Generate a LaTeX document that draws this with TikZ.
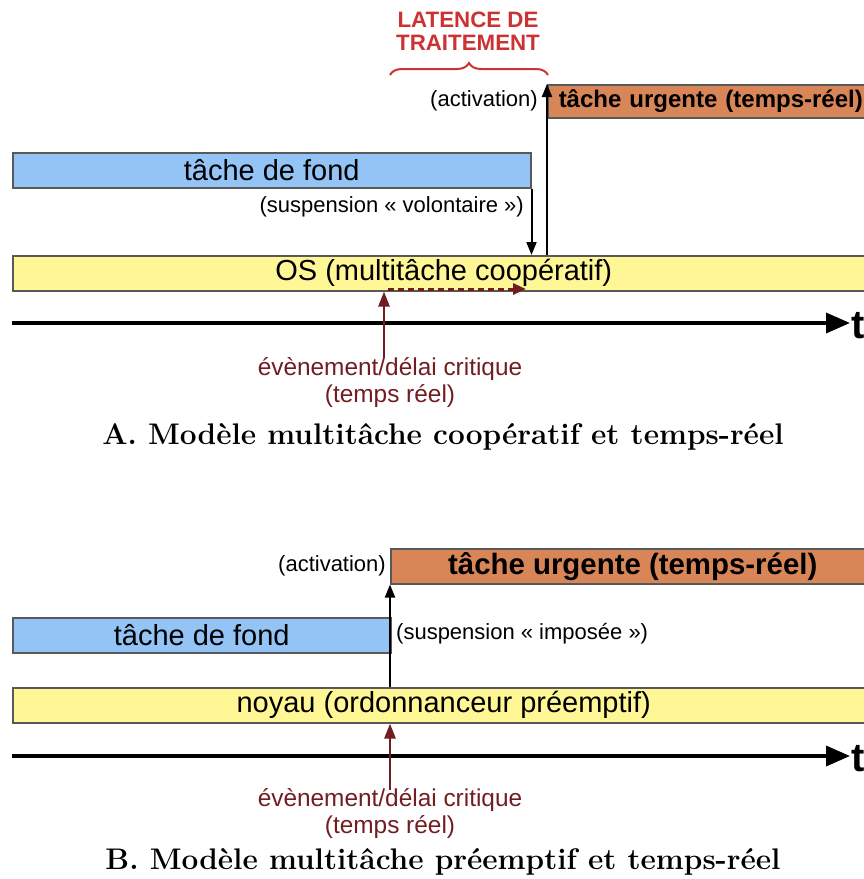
\documentclass[tikz,border=0pt]{standalone}
\usepackage{fontspec}
\newfontfamily\hv{Liberation Sans}
\usetikzlibrary{arrows.meta,decorations.pathreplacing}
\definecolor{bluefond}{RGB}{147,196,245}
\definecolor{yel}{RGB}{255,247,150}
\definecolor{org}{RGB}{216,133,88}
\definecolor{drk}{RGB}{112,30,34}
\definecolor{redt}{RGB}{204,50,50}
\begin{document}
\begin{tikzpicture}[x=1pt,y=-1pt,
  bar/.style={draw=black!65, line width=1.5pt, inner sep=0pt, minimum height=35pt, font=\hv\fontsize{29}{32}\selectfont},
  lbl/.style={inner sep=0pt, font=\hv\fontsize{22}{26}\selectfont},
  evt/.style={inner sep=0pt, align=center, text=drk, font=\hv\fontsize{24.4}{27}\selectfont},
  captxt/.style={inner sep=0pt, font=\bfseries\fontsize{29.8}{32}\selectfont},
  arr/.style={line width=2pt, -{Triangle[length=13pt,width=10pt]}},
  redarr/.style={drk, line width=2.5pt, -{Triangle[length=15pt,width=11pt]}},
  dasharr/.style={drk, line width=3pt, dash pattern=on 6pt off 4pt, -{Triangle[length=13pt,width=11pt]}},
  axis/.style={line width=3.5pt, -{Triangle[length=24pt,width=20pt]}},
  tlbl/.style={inner sep=0pt, anchor=west, font=\hv\bfseries\fontsize{40}{44}\selectfont}
]
\useasboundingbox (0,0) rectangle (864,879);
\clip (0,0) rectangle (864,879);

% ---------- A ----------
\node[text=redt, align=center, inner sep=0pt, font=\hv\bfseries\fontsize{22.3}{23}\selectfont] (lat) at (468,31) {LATENCE DE\\TRAITEMENT};
\draw[redt, line width=2pt, decorate, decoration={brace, amplitude=12pt}] (390,75) -- (548,75);

\node[bar, fill=org, anchor=north west, minimum height=33pt, text width=330pt, align=left, inner xsep=11pt, font=\hv\bfseries\fontsize{24}{28}\selectfont] (urgA) at (547,84) {tâche urgente (temps-réel)};
\node[lbl, anchor=east] (actA) at (538,101) {(activation)};

\node[bar, fill=bluefond, anchor=north west, minimum width=518pt] (fondA) at (12,152) {tâche de fond};
\node[lbl, anchor=east] (susA) at (524,207) {(suspension « volontaire »)};

\node[bar, fill=yel, anchor=north west, minimum width=862pt] (osA) at (12,255) {OS (multitâche coopératif)};

\draw[arr] (fondA.south east) -- (fondA.south east |- osA.north);
\draw[arr] (urgA.north west |- osA.north) -- (urgA.north west);

\coordinate (axA0) at (12,323);
\coordinate (axA1) at (850,323);
\draw[axis] (axA0) -- (axA1);
\node[tlbl] (tA) at (851,326) {t};

\node[evt] (evA) at (390,382.5) {évènement/délai critique\\(temps réel)};
\coordinate (eA) at (384,358);
\coordinate (dA0) at (388,289);
\coordinate (dA1) at (526,289);
\draw[redarr] (eA) -- (eA |- osA.south);
\draw[dasharr] (dA0) -- (dA1);

\node[captxt] (capA) at (443,437) {A. Modèle multitâche coopératif et temps-réel};

% ---------- B ----------
\node[bar, fill=org, anchor=north west, minimum width=484pt, font=\hv\bfseries\fontsize{29.4}{32}\selectfont] (urgB) at (390,548) {tâche urgente (temps-réel)};
\node[lbl, anchor=east] (actB) at (386,566) {(activation)};

\node[bar, fill=bluefond, anchor=north west, minimum width=378pt] (fondB) at (12,617) {tâche de fond};
\node[lbl, anchor=west] (susB) at (396,634) {(suspension « imposée »)};

\node[bar, fill=yel, anchor=north west, minimum width=862pt] (osB) at (12,687) {noyau (ordonnanceur préemptif)};

\draw[arr] (urgB.south west |- osB.north) -- (urgB.south west);

\coordinate (axB0) at (12,756);
\coordinate (axB1) at (850,756);
\draw[axis] (axB0) -- (axB1);
\node[tlbl] (tB) at (851,759) {t};

\node[evt] (evB) at (390,813.5) {évènement/délai critique\\(temps réel)};
\coordinate (eB) at (390,790);
\draw[redarr] (eB) -- (eB |- osB.south);

\node[captxt] (capB) at (443,862) {B. Modèle multitâche préemptif et temps-réel};
\end{tikzpicture}
\end{document}
